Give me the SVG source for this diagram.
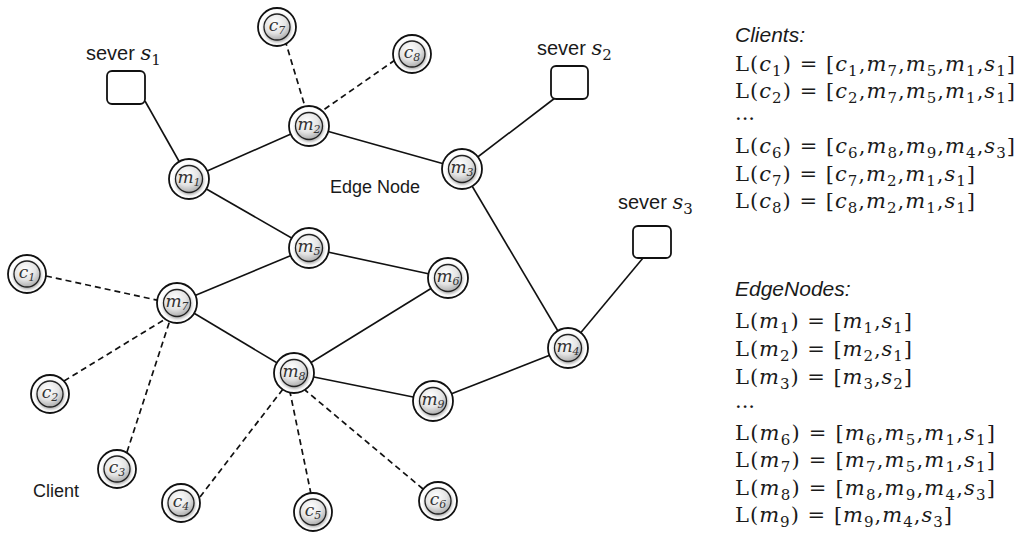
<svg xmlns="http://www.w3.org/2000/svg" width="1019" height="533" viewBox="0 0 1019 533">
<defs>
<radialGradient id="g" cx="0.42" cy="0.32" r="0.75">
<stop offset="0" stop-color="#ffffff"/>
<stop offset="0.55" stop-color="#e4e4e4"/>
<stop offset="1" stop-color="#a0a0a0"/>
</radialGradient>
<filter id="sh" x="-40%" y="-40%" width="180%" height="180%">
<feDropShadow dx="0.5" dy="1.5" stdDeviation="1.5" flood-color="#000" flood-opacity="0.35"/>
</filter>
</defs>
<style>
.o{fill:#fff;stroke:#111;stroke-width:1.8}
.in{fill:url(#g);stroke:#222;stroke-width:1.3;filter:url(#sh)}
.nl{font-family:"DejaVu Serif","Liberation Serif",serif;font-style:italic;font-size:17px;fill:#333;text-anchor:middle}
.ns{font-size:11px}
.e{stroke:#111;stroke-width:1.6;fill:none}
.d{stroke:#111;stroke-width:1.7;fill:none;stroke-dasharray:6 4}
.box{fill:#fff;stroke:#111;stroke-width:1.8}
.sans{font-family:"Liberation Sans","Open Sans",sans-serif;fill:#1a1a1a}
.mt{font-family:"DejaVu Serif","Liberation Serif",serif;font-size:21px;fill:#1a1a1a}
.i{font-style:italic}
.sb{font-size:15px}
.hd{font-family:"Liberation Sans","Open Sans",sans-serif;font-style:italic;font-size:21px;fill:#1a1a1a}
</style>
<g id="connectors">
<line class="e" x1="145" y1="101" x2="189" y2="179"/>
<line class="e" x1="189" y1="179" x2="309" y2="126"/>
<line class="e" x1="309" y1="126" x2="462" y2="169"/>
<line class="e" x1="462" y1="169" x2="555" y2="98"/>
<line class="e" x1="189" y1="179" x2="309" y2="248"/>
<line class="e" x1="309" y1="248" x2="177" y2="303"/>
<line class="e" x1="309" y1="248" x2="448" y2="278"/>
<line class="e" x1="462" y1="169" x2="568" y2="348"/>
<line class="e" x1="568" y1="348" x2="643" y2="258"/>
<line class="e" x1="177" y1="303" x2="294" y2="373"/>
<line class="e" x1="448" y1="278" x2="294" y2="373"/>
<line class="e" x1="294" y1="373" x2="433" y2="401"/>
<line class="e" x1="433" y1="401" x2="568" y2="348"/>
<line class="d" x1="285" y1="40" x2="306" y2="110"/>
<line class="d" x1="395" y1="60" x2="322" y2="111"/>
<line class="d" x1="46" y1="276" x2="161" y2="301"/>
<line class="d" x1="64" y1="381" x2="167" y2="318"/>
<line class="d" x1="127" y1="452" x2="170" y2="320"/>
<line class="d" x1="200" y1="497" x2="283" y2="389"/>
<line class="d" x1="311" y1="494" x2="290" y2="392"/>
<line class="d" x1="423" y1="489" x2="305" y2="390"/>
</g>
<g id="s1"><rect class="box" x="107" y="71" width="38" height="33" rx="5"/>
<text class="sans" x="86" y="60" font-size="20">sever <tspan class="i" font-family="DejaVu Serif,serif" font-size="21">s</tspan><tspan font-family="DejaVu Serif,serif" font-size="15" dy="5">1</tspan></text></g>
<g id="s2"><rect class="box" x="551" y="66" width="37" height="33" rx="5"/>
<text class="sans" x="537" y="55" font-size="20">sever <tspan class="i" font-family="DejaVu Serif,serif" font-size="21">s</tspan><tspan font-family="DejaVu Serif,serif" font-size="15" dy="5">2</tspan></text></g>
<g id="s3"><rect class="box" x="633" y="226" width="38" height="32" rx="5"/>
<text class="sans" x="618" y="209" font-size="20">sever <tspan class="i" font-family="DejaVu Serif,serif" font-size="21">s</tspan><tspan font-family="DejaVu Serif,serif" font-size="15" dy="5">3</tspan></text></g>
<g id="m1"><circle class="o" cx="189" cy="179" r="20"/><circle class="in" cx="189" cy="179" r="13.5"/><text class="nl" x="189" y="183">m<tspan class="ns" dy="3">1</tspan></text></g>
<g id="m2"><circle class="o" cx="309" cy="126" r="20"/><circle class="in" cx="309" cy="126" r="13.5"/><text class="nl" x="309" y="130">m<tspan class="ns" dy="3">2</tspan></text></g>
<g id="m3"><circle class="o" cx="462" cy="169" r="20"/><circle class="in" cx="462" cy="169" r="13.5"/><text class="nl" x="462" y="173">m<tspan class="ns" dy="3">3</tspan></text></g>
<g id="m4"><circle class="o" cx="568" cy="348" r="20"/><circle class="in" cx="568" cy="348" r="13.5"/><text class="nl" x="568" y="352">m<tspan class="ns" dy="3">4</tspan></text></g>
<g id="m5"><circle class="o" cx="309" cy="248" r="20"/><circle class="in" cx="309" cy="248" r="13.5"/><text class="nl" x="309" y="252">m<tspan class="ns" dy="3">5</tspan></text></g>
<g id="m6"><circle class="o" cx="448" cy="278" r="20"/><circle class="in" cx="448" cy="278" r="13.5"/><text class="nl" x="448" y="282">m<tspan class="ns" dy="3">6</tspan></text></g>
<g id="m7"><circle class="o" cx="177" cy="303" r="20"/><circle class="in" cx="177" cy="303" r="13.5"/><text class="nl" x="177" y="307">m<tspan class="ns" dy="3">7</tspan></text></g>
<g id="m8"><circle class="o" cx="294" cy="373" r="20"/><circle class="in" cx="294" cy="373" r="13.5"/><text class="nl" x="294" y="377">m<tspan class="ns" dy="3">8</tspan></text></g>
<g id="m9"><circle class="o" cx="433" cy="401" r="20"/><circle class="in" cx="433" cy="401" r="13.5"/><text class="nl" x="433" y="405">m<tspan class="ns" dy="3">9</tspan></text></g>
<g id="c1"><circle class="o" cx="27" cy="274" r="19"/><circle class="in" cx="27" cy="274" r="13"/><text class="nl" x="27" y="278">c<tspan class="ns" dy="3">1</tspan></text></g>
<g id="c2"><circle class="o" cx="50" cy="394" r="19"/><circle class="in" cx="50" cy="394" r="13"/><text class="nl" x="50" y="398">c<tspan class="ns" dy="3">2</tspan></text></g>
<g id="c3"><circle class="o" cx="117" cy="469" r="19"/><circle class="in" cx="117" cy="469" r="13"/><text class="nl" x="117" y="473">c<tspan class="ns" dy="3">3</tspan></text></g>
<g id="c4"><circle class="o" cx="181" cy="503" r="19"/><circle class="in" cx="181" cy="503" r="13"/><text class="nl" x="181" y="507">c<tspan class="ns" dy="3">4</tspan></text></g>
<g id="c5"><circle class="o" cx="313" cy="512" r="19"/><circle class="in" cx="313" cy="512" r="13"/><text class="nl" x="313" y="516">c<tspan class="ns" dy="3">5</tspan></text></g>
<g id="c6"><circle class="o" cx="438" cy="501" r="19"/><circle class="in" cx="438" cy="501" r="13"/><text class="nl" x="438" y="505">c<tspan class="ns" dy="3">6</tspan></text></g>
<g id="c7"><circle class="o" cx="277" cy="27" r="19"/><circle class="in" cx="277" cy="27" r="13"/><text class="nl" x="277" y="31">c<tspan class="ns" dy="3">7</tspan></text></g>
<g id="c8"><circle class="o" cx="412" cy="54" r="19"/><circle class="in" cx="412" cy="54" r="13"/><text class="nl" x="412" y="58">c<tspan class="ns" dy="3">8</tspan></text></g>
<g id="labels">
<text class="sans" x="330" y="193" font-size="18">Edge Node</text>
<text class="sans" x="33" y="497" font-size="18">Client</text>
</g>
<g id="clients-list">
<text class="hd" x="735" y="42">Clients:</text>
<text class="mt" x="735" y="71" textLength="280" lengthAdjust="spacing">L(<tspan class="i">c</tspan><tspan class="sb" dy="5">1</tspan><tspan dy="-5">) = [</tspan><tspan class="i">c</tspan><tspan class="sb" dy="5">1</tspan><tspan dy="-5">,</tspan><tspan class="i">m</tspan><tspan class="sb" dy="5">7</tspan><tspan dy="-5">,</tspan><tspan class="i">m</tspan><tspan class="sb" dy="5">5</tspan><tspan dy="-5">,</tspan><tspan class="i">m</tspan><tspan class="sb" dy="5">1</tspan><tspan dy="-5">,</tspan><tspan class="i">s</tspan><tspan class="sb" dy="5">1</tspan><tspan dy="-5">]</tspan></text>
<text class="mt" x="735" y="98" textLength="280" lengthAdjust="spacing">L(<tspan class="i">c</tspan><tspan class="sb" dy="5">2</tspan><tspan dy="-5">) = [</tspan><tspan class="i">c</tspan><tspan class="sb" dy="5">2</tspan><tspan dy="-5">,</tspan><tspan class="i">m</tspan><tspan class="sb" dy="5">7</tspan><tspan dy="-5">,</tspan><tspan class="i">m</tspan><tspan class="sb" dy="5">5</tspan><tspan dy="-5">,</tspan><tspan class="i">m</tspan><tspan class="sb" dy="5">1</tspan><tspan dy="-5">,</tspan><tspan class="i">s</tspan><tspan class="sb" dy="5">1</tspan><tspan dy="-5">]</tspan></text>
<text class="mt" x="735" y="120">...</text>
<text class="mt" x="735" y="153" textLength="280" lengthAdjust="spacing">L(<tspan class="i">c</tspan><tspan class="sb" dy="5">6</tspan><tspan dy="-5">) = [</tspan><tspan class="i">c</tspan><tspan class="sb" dy="5">6</tspan><tspan dy="-5">,</tspan><tspan class="i">m</tspan><tspan class="sb" dy="5">8</tspan><tspan dy="-5">,</tspan><tspan class="i">m</tspan><tspan class="sb" dy="5">9</tspan><tspan dy="-5">,</tspan><tspan class="i">m</tspan><tspan class="sb" dy="5">4</tspan><tspan dy="-5">,</tspan><tspan class="i">s</tspan><tspan class="sb" dy="5">3</tspan><tspan dy="-5">]</tspan></text>
<text class="mt" x="735" y="181" textLength="240" lengthAdjust="spacing">L(<tspan class="i">c</tspan><tspan class="sb" dy="5">7</tspan><tspan dy="-5">) = [</tspan><tspan class="i">c</tspan><tspan class="sb" dy="5">7</tspan><tspan dy="-5">,</tspan><tspan class="i">m</tspan><tspan class="sb" dy="5">2</tspan><tspan dy="-5">,</tspan><tspan class="i">m</tspan><tspan class="sb" dy="5">1</tspan><tspan dy="-5">,</tspan><tspan class="i">s</tspan><tspan class="sb" dy="5">1</tspan><tspan dy="-5">]</tspan></text>
<text class="mt" x="735" y="208" textLength="240" lengthAdjust="spacing">L(<tspan class="i">c</tspan><tspan class="sb" dy="5">8</tspan><tspan dy="-5">) = [</tspan><tspan class="i">c</tspan><tspan class="sb" dy="5">8</tspan><tspan dy="-5">,</tspan><tspan class="i">m</tspan><tspan class="sb" dy="5">2</tspan><tspan dy="-5">,</tspan><tspan class="i">m</tspan><tspan class="sb" dy="5">1</tspan><tspan dy="-5">,</tspan><tspan class="i">s</tspan><tspan class="sb" dy="5">1</tspan><tspan dy="-5">]</tspan></text>
</g>
<g id="edgenodes-list">
<text class="hd" x="735" y="296">EdgeNodes:</text>
<text class="mt" x="735" y="328" textLength="177" lengthAdjust="spacing">L(<tspan class="i">m</tspan><tspan class="sb" dy="5">1</tspan><tspan dy="-5">) = [</tspan><tspan class="i">m</tspan><tspan class="sb" dy="5">1</tspan><tspan dy="-5">,</tspan><tspan class="i">s</tspan><tspan class="sb" dy="5">1</tspan><tspan dy="-5">]</tspan></text>
<text class="mt" x="735" y="356" textLength="177" lengthAdjust="spacing">L(<tspan class="i">m</tspan><tspan class="sb" dy="5">2</tspan><tspan dy="-5">) = [</tspan><tspan class="i">m</tspan><tspan class="sb" dy="5">2</tspan><tspan dy="-5">,</tspan><tspan class="i">s</tspan><tspan class="sb" dy="5">1</tspan><tspan dy="-5">]</tspan></text>
<text class="mt" x="735" y="384" textLength="177" lengthAdjust="spacing">L(<tspan class="i">m</tspan><tspan class="sb" dy="5">3</tspan><tspan dy="-5">) = [</tspan><tspan class="i">m</tspan><tspan class="sb" dy="5">3</tspan><tspan dy="-5">,</tspan><tspan class="i">s</tspan><tspan class="sb" dy="5">2</tspan><tspan dy="-5">]</tspan></text>
<text class="mt" x="735" y="408">...</text>
<text class="mt" x="735" y="440" textLength="260" lengthAdjust="spacing">L(<tspan class="i">m</tspan><tspan class="sb" dy="5">6</tspan><tspan dy="-5">) = [</tspan><tspan class="i">m</tspan><tspan class="sb" dy="5">6</tspan><tspan dy="-5">,</tspan><tspan class="i">m</tspan><tspan class="sb" dy="5">5</tspan><tspan dy="-5">,</tspan><tspan class="i">m</tspan><tspan class="sb" dy="5">1</tspan><tspan dy="-5">,</tspan><tspan class="i">s</tspan><tspan class="sb" dy="5">1</tspan><tspan dy="-5">]</tspan></text>
<text class="mt" x="735" y="467" textLength="260" lengthAdjust="spacing">L(<tspan class="i">m</tspan><tspan class="sb" dy="5">7</tspan><tspan dy="-5">) = [</tspan><tspan class="i">m</tspan><tspan class="sb" dy="5">7</tspan><tspan dy="-5">,</tspan><tspan class="i">m</tspan><tspan class="sb" dy="5">5</tspan><tspan dy="-5">,</tspan><tspan class="i">m</tspan><tspan class="sb" dy="5">1</tspan><tspan dy="-5">,</tspan><tspan class="i">s</tspan><tspan class="sb" dy="5">1</tspan><tspan dy="-5">]</tspan></text>
<text class="mt" x="735" y="495" textLength="260" lengthAdjust="spacing">L(<tspan class="i">m</tspan><tspan class="sb" dy="5">8</tspan><tspan dy="-5">) = [</tspan><tspan class="i">m</tspan><tspan class="sb" dy="5">8</tspan><tspan dy="-5">,</tspan><tspan class="i">m</tspan><tspan class="sb" dy="5">9</tspan><tspan dy="-5">,</tspan><tspan class="i">m</tspan><tspan class="sb" dy="5">4</tspan><tspan dy="-5">,</tspan><tspan class="i">s</tspan><tspan class="sb" dy="5">3</tspan><tspan dy="-5">]</tspan></text>
<text class="mt" x="735" y="522" textLength="217" lengthAdjust="spacing">L(<tspan class="i">m</tspan><tspan class="sb" dy="5">9</tspan><tspan dy="-5">) = [</tspan><tspan class="i">m</tspan><tspan class="sb" dy="5">9</tspan><tspan dy="-5">,</tspan><tspan class="i">m</tspan><tspan class="sb" dy="5">4</tspan><tspan dy="-5">,</tspan><tspan class="i">s</tspan><tspan class="sb" dy="5">3</tspan><tspan dy="-5">]</tspan></text>
</g>
</svg>
